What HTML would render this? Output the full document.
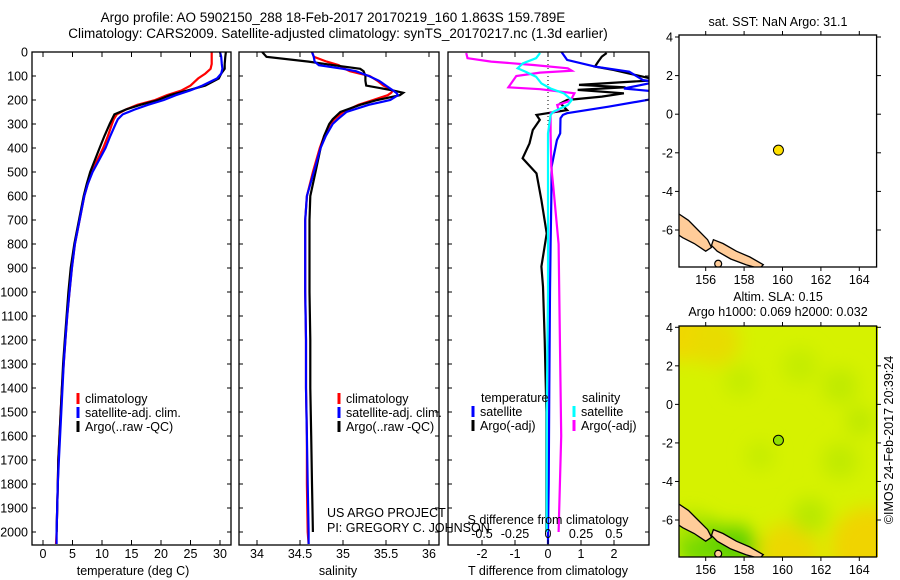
<!DOCTYPE html>
<html><head><meta charset="utf-8"><style>
html,body{margin:0;padding:0;background:#fff;}
svg{display:block;font-family:"Liberation Sans",sans-serif;}
text{font-size:12.5px;fill:#000;}
</style></head><body>
<svg id="fig" width="900" height="580" viewBox="0 0 900 580" xmlns="http://www.w3.org/2000/svg">
<defs>
<clipPath id="cp1"><rect x="32" y="52" width="199" height="493"/></clipPath>
<clipPath id="cp2"><rect x="239" y="52" width="200" height="493"/></clipPath>
<clipPath id="cp3"><rect x="448" y="52" width="201" height="493"/></clipPath>
<clipPath id="cpm1"><rect x="679" y="35" width="198" height="232"/></clipPath>
<clipPath id="cpm2"><rect x="679" y="326" width="199" height="231"/></clipPath>
<filter id="blur" x="-50%" y="-50%" width="200%" height="200%"><feGaussianBlur stdDeviation="9"/></filter>
</defs>
<text x="333" y="22" text-anchor="middle" style="font-size:13.5px">Argo profile: AO 5902150_288 18-Feb-2017 20170219_160 1.863S 159.789E</text>
<text x="338" y="38" text-anchor="middle" style="font-size:13.5px">Climatology: CARS2009. Satellite-adjusted climatology: synTS_20170217.nc (1.3d earlier)</text>
<g id="g1"></g>
<g id="g2"></g>
<g id="g3"></g>
<g id="m1"></g>
<g id="m2"></g>
<text transform="translate(893,440) rotate(-90)" text-anchor="middle">©IMOS 24-Feb-2017 20:39:24</text>
</svg>
<script>
// ---- data ----
const depthT = [0,20,50,70,90,110,140,160,180,200,220,240,260,280,300,350,400,450,500,550,600,700,800,900,1000,1100,1200,1300,1400,1500,1600,1700,1800,1900,2000,2050];
const tClim = [28.6,28.6,28.6,28.4,27.5,26.3,25,23.5,21,19,16,14,12.5,12,11.7,11,10.2,9.2,8.3,7.6,7,6.2,5.4,4.9,4.5,4.1,3.8,3.5,3.2,3,2.8,2.6,2.5,2.4,2.3,2.2];
const tSat = [30.0,30.2,30.3,30.4,30.2,29.5,27,25,22.5,20.5,17.8,15.5,13.5,12.7,12.3,11.4,10.6,9.5,8.4,7.6,7,6.2,5.4,4.9,4.5,4.1,3.8,3.5,3.3,3.1,2.9,2.7,2.5,2.4,2.3,2.3];
const tArgo = [31.0,30.9,30.8,30.8,30.2,29.8,27.5,24.5,21.5,19.5,16.5,14,12.1,11.7,11.3,10.4,9.6,8.8,8,7.4,6.9,6.1,5.3,4.7,4.3,4.0,3.7,3.4,3.2,3.0,2.8,2.6,2.5,2.4,2.3,null];
const depthS = [0,20,40,55,70,80,100,120,140,160,170,180,200,220,250,280,300,350,400,500,600,700,800,1000,1200,1400,1600,1800,2000,2050];
const sClim = [34.64,34.66,34.81,34.95,35.02,35.08,35.31,35.4,35.47,35.58,35.56,35.52,35.35,35.18,35.0,34.9,34.85,34.78,34.73,34.65,34.58,34.56,34.56,34.56,34.57,34.57,34.58,34.58,34.59,34.6];
const sSat = [34.64,34.66,34.67,34.72,35.0,35.15,35.3,35.42,35.5,35.58,35.62,35.64,35.55,35.3,35.04,34.94,34.88,34.8,34.74,34.66,34.58,34.56,34.56,34.56,34.57,34.57,34.58,34.59,34.6,34.6];
const sArgo = [34.06,34.11,34.6,34.89,35.2,35.24,35.26,35.26,35.27,35.58,35.7,35.66,35.4,35.2,34.97,34.88,34.84,34.78,34.74,34.68,34.62,34.61,34.61,34.61,34.62,34.62,34.63,34.64,34.65,null];
const dBT = [0,33,61,82,117,124,152,165,193,228,255,262,276,339,367,436,478,617,800,1000,1400,1800,2000,2050];
const vBT = [0.41,0.58,1.42,2.46,2.88,3.3,2.3,3.3,3.3,1.83,0.58,0.45,0.38,0.37,0.27,0.17,0.11,0.1,0.08,0.06,0.04,0.02,0.0,0.0];
const dKT = [4,19,40,61,75,103,117,137,147,158,172,186,200,214,242,262,283,325,381,443,506,617,756,894,978,1200,1500,1800,2000];
const vKT = [1.78,1.63,1.52,1.42,2.0,2.88,3.3,0.94,2.35,0.9,2.3,1.63,0.58,0.38,0.58,-0.35,-0.25,-0.46,-0.56,-0.77,-0.35,-0.2,-0.04,-0.2,-0.15,-0.1,-0.05,-0.05,-0.05];
const dCS = [4,26,47,68,82,103,131,152,172,200,221,249,262,339,478,1000,1500,2000];
const vCS = [-0.06,-0.09,-0.19,-0.23,-0.17,-0.09,-0.05,0.02,0.12,0.18,0.15,0.04,0.02,0,0,0,-0.01,-0.01];
const dMS = [4,26,40,54,68,78,86,100,147,155,172,193,207,221,242,255,339,478,561,800,1200,1600,2000];
const vMS = [-0.62,-0.61,-0.43,-0.11,0.15,0.18,-0.06,-0.24,-0.3,-0.06,0.2,0.18,0.15,0.07,0.08,0.02,0.02,0.025,0.04,0.08,0.09,0.1,0.08];
const depthTicks = [0,100,200,300,400,500,600,700,800,900,1000,1100,1200,1300,1400,1500,1600,1700,1800,1900,2000];
const tempTicks = [0,5,10,15,20,25,30];
const salTicks = [34,34.5,35,35.5,36];
const tdTicks = [-2,-1,0,1,2];
const sdTicks = [-0.5,-0.25,0,0.25,0.5];
const latTicks = [4,2,0,-2,-4,-6];
const lonTicks = [156,158,160,162,164];
const argoLon = [159.789];
const argoLat = [-1.863];
// ---- scales ----
const NS='http://www.w3.org/2000/svg';
const dY = d => 52 + d*0.24;
const tX = t => 43 + t*5.9;
const sX = s => 257 + (s-34)*86;
const tdX = v => 548 + v*33;
const sdX = v => 548 + v*132;
const lonX = l => 705.7 + (l-156)*19.2;
const latY1 = a => 37 + (4-a)*19.3;
const latY2 = a => 327.3 + (4-a)*19.27;
function el(tag, attrs, parent){const e=document.createElementNS(NS,tag);for(const k in attrs)e.setAttribute(k,attrs[k]);parent.appendChild(e);return e;}
function txt(s, x, y, anchor, parent){const e=el('text',{x:x,y:y,'text-anchor':anchor},parent);e.textContent=s;return e;}
function line(depths, vals, fx, color, parent, name){
  let pts=[];for(let i=0;i<depths.length;i++){if(vals[i]===null)continue;pts.push(fx(vals[i]).toFixed(1)+','+dY(depths[i]).toFixed(1));}
  const p=el('polyline',{points:pts.join(' '),fill:'none',stroke:color,'stroke-width':2.2},parent);
  
  
}
function frame(x0,x1,parent,name){
  const r=el('rect',{x:x0,y:52,width:x1-x0,height:493,fill:'none',stroke:'#000','stroke-width':1.3},parent);
  
  
}
function depthTickMarks(x0,x1,parent){
  depthTicks.forEach(d=>{el('line',{x1:x0,y1:dY(d),x2:x0+4,y2:dY(d),stroke:'#000'},parent);el('line',{x1:x1,y1:dY(d),x2:x1-4,y2:dY(d),stroke:'#000'},parent);});
}
function bottomTicks(ticks,fx,parent,yl){
  ticks.forEach(t=>{const x=fx(t);el('line',{x1:x,y1:545,x2:x,y2:540,stroke:'#000'},parent);el('line',{x1:x,y1:52,x2:x,y2:57,stroke:'#000'},parent);
    const e=txt(String(t),x,yl,'middle',parent);});
}
function legendItem(x,y,color,label,parent){
  el('line',{x1:x,y1:y-10,x2:x,y2:y+1,stroke:color,'stroke-width':3},parent);
  const e=txt(label,x+7,y,'start',parent);
  
  
}
// ---- panel 1 ----
const g1=document.getElementById('g1');
depthTicks.forEach(d=>{const e=txt(String(d),28,dY(d)+4.5,'end',g1);});
const c1=el('g',{'clip-path':'url(#cp1)'},g1);
line(depthT,tClim,tX,'#ff0000',c1,'temp-climatology-line');
line(depthT,tArgo,tX,'#000000',c1,'temp-argo-line');
line(depthT,tSat,tX,'#0000ff',c1,'temp-satellite-line');
frame(32,231,g1,'temperature-axes');
depthTickMarks(32,231,g1);
bottomTicks(tempTicks,tX,g1,558);
let e1=txt('temperature (deg C)',133,575,'middle',g1);
legendItem(78,403,'#ff0000','climatology',g1);legendItem(78,417,'#0000ff','satellite-adj. clim.',g1);legendItem(78,431,'#000000','Argo(..raw -QC)',g1);
// ---- panel 2 ----
const g2=document.getElementById('g2');
const c2=el('g',{'clip-path':'url(#cp2)'},g2);
line(depthS,sClim,sX,'#ff0000',c2,'sal-climatology-line');
line(depthS,sArgo,sX,'#000000',c2,'sal-argo-line');
line(depthS,sSat,sX,'#0000ff',c2,'sal-satellite-line');
frame(239,439,g2,'salinity-axes');
depthTickMarks(239,439,g2);
bottomTicks(salTicks,sX,g2,558);
let e2=txt('salinity',338,575,'middle',g2);
legendItem(339,403,'#ff0000','climatology',g2);legendItem(339,417,'#0000ff','satellite-adj. clim.',g2);legendItem(339,431,'#000000','Argo(..raw -QC)',g2);
let e3=txt('US ARGO PROJECT',327,517,'start',g2);
let e4=txt('PI: GREGORY C. JOHNSON',327,532,'start',g2);
// ---- panel 3 ----
const g3=document.getElementById('g3');
const c3=el('g',{'clip-path':'url(#cp3)'},g3);
el('line',{x1:548,y1:52,x2:548,y2:125,stroke:'#000','stroke-dasharray':'1,3'},c3);
line(dKT,vKT,tdX,'#000000',c3,'tdiff-argo-line');
line(dBT,vBT,tdX,'#0000ff',c3,'tdiff-satellite-line');
line(dMS,vMS,sdX,'#ff00ff',c3,'sdiff-argo-line');
line(dCS,vCS,sdX,'#00ffff',c3,'sdiff-satellite-line');
frame(448,649,g3,'difference-axes');
depthTickMarks(448,649,g3);
bottomTicks(tdTicks,tdX,g3,558);
sdTicks.forEach(t=>{const e=txt(String(t),sdX(t),538,'middle',g3);});
let e5=txt('S difference from climatology',548,524,'middle',g3);
let e6=txt('T difference from climatology',548,575,'middle',g3);
let e7=txt('temperature',481,402,'start',g3);
let e8=txt('salinity',582,402,'start',g3);
legendItem(473,416,'#0000ff','satellite',g3);legendItem(473,430,'#000000','Argo(-adj)',g3);
legendItem(574,416,'#00ffff','satellite',g3);legendItem(574,430,'#ff00ff','Argo(-adj)',g3);
// ---- maps ----
const islands=[
 [[154.5,-5.1],[155.1,-5.5],[155.6,-6.0],[156.1,-6.5],[156.3,-6.9],[156.0,-7.1],[155.4,-6.7],[154.8,-6.4],[154.5,-6.2]],
 [[156.4,-6.5],[156.9,-6.7],[157.6,-7.1],[158.3,-7.4],[159.0,-7.8],[158.8,-8.0],[158.1,-7.8],[157.3,-7.5],[156.6,-7.1],[156.3,-6.8]]];
const smallIsles=[[156.65,-7.75]];
function drawMap(g,top,bottom,latY,clip,isSla,dotColor){
  const cg=el('g',{'clip-path':'url('+clip+')'},g);
  if(isSla){
    el('rect',{x:679,y:top,width:199,height:bottom-top,fill:'#d6f200'},cg);
    const blobs=[[683,top+5,30,'#f0d800'],[715,top+15,25,'#e8dc00'],[870,bottom-10,40,'#f0d400'],[790,bottom-5,30,'#ecd800'],[700,bottom-15,25,'#70d800'],[735,bottom-10,22,'#60d000'],
      [740,top+55,16,'#c4ec00'],[800,top+40,18,'#c4ec00'],[840,top+60,18,'#bfea00'],[860,top+95,14,'#bce800'],[760,top+130,14,'#c4ec00'],[840,top+135,18,'#c0ea00'],[810,top+190,18,'#b8e800'],[690,top+200,15,'#a8e400']];
    const bg=el('g',{filter:'url(#blur)'},cg);
    blobs.forEach(b=>el('circle',{cx:b[0],cy:b[1],r:b[2],fill:b[3]},bg));
  }
  islands.forEach(poly=>{
    const pts=poly.map(p=>lonX(p[0]).toFixed(1)+','+latY(p[1]).toFixed(1)).join(' ');
    const pg=el('polygon',{points:pts,fill:'#ffcc99',stroke:'#000','stroke-width':1.3},cg);
    
    
  });
  smallIsles.forEach(p=>{
    const c=el('circle',{cx:lonX(p[0]),cy:latY(p[1]),r:3.5,fill:'#ffcc99',stroke:'#000','stroke-width':1.2},cg);
    
    
  });
  el('rect',{x:679,y:top,width:lonX(164.9)-679,height:bottom-top,fill:'none',stroke:'#000','stroke-width':1.3},g);
  latTicks.forEach(a=>{const y=latY(a);el('line',{x1:679,y1:y,x2:675,y2:y,stroke:'#000'},g);el('line',{x1:877,y1:y,x2:881,y2:y,stroke:'#000'},g);
    const e=txt(String(a),673,y+4.5,'end',g);});
  lonTicks.forEach(l=>{const x=lonX(l);el('line',{x1:x,y1:top,x2:x,y2:top-4,stroke:'#000'},g);el('line',{x1:x,y1:bottom,x2:x,y2:bottom+4,stroke:'#000'},g);
    const e=txt(String(l),x,bottom+17,'middle',g);});
  for(let i=0;i<argoLon.length;i++){
    const c=el('circle',{cx:lonX(argoLon[i]),cy:latY(argoLat[i]),r:5,fill:dotColor,stroke:'#000','stroke-width':1},g);
    
    
  }
}
const m1=document.getElementById('m1');
drawMap(m1,35,267,latY1,'#cpm1',false,'#ffe000');
let t1=txt('sat. SST: NaN Argo: 31.1',778,26,'middle',m1);
const m2=document.getElementById('m2');
drawMap(m2,326,557,latY2,'#cpm2',true,'#90e000');
let t2=txt('Altim. SLA: 0.15',778,301,'middle',m2);
let t3=txt('Argo h1000: 0.069 h2000: 0.032',778,316,'middle',m2);
</script>
</body></html>
